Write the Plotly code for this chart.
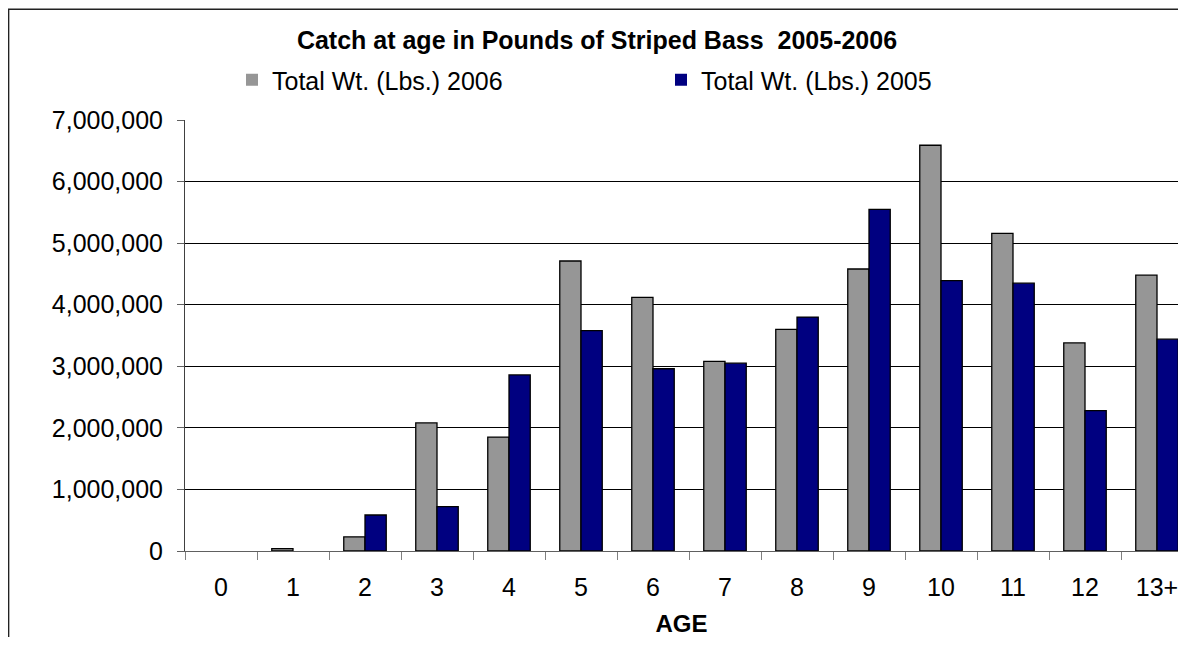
import plotly.graph_objects as go

ages = ["0", "1", "2", "3", "4", "5", "6", "7", "8", "9", "10", "11", "12", "13+"]
wt_2006 = [0, 40000, 230000, 2080000, 1850000, 4710000, 4120000, 3080000, 3600000,
           4580000, 6590000, 5160000, 3380000, 4480000]
wt_2005 = [0, 0, 585000, 720000, 2860000, 3580000, 2960000, 3050000, 3800000,
           5550000, 4390000, 4350000, 2280000, 3440000]

# the page body adds an 8px margin on every side; size the figure so the page
# does not scroll in the 1186x645 window
OFF = 8
W, H = 1186 - 2 * OFF, 645 - 2 * OFF
ML, MR, MT = 185 - OFF, 0, 120 - OFF
MB = H - (551 - OFF)
PW = W - ML - MR
PH = H - MT - MB
CAT_PX = 72.0


def px_x(p):
    """reference-pixel x -> paper coordinate"""
    return (p - OFF - ML) / PW


def px_y(p):
    """reference-pixel y -> paper coordinate"""
    return (H - MB - (p - OFF)) / PH


FONT = "Liberation Sans, Arial, sans-serif"


def outline_widths(vals):
    return [0 if v == 0 else 1.3 for v in vals]


fig = go.Figure()
fig.add_trace(go.Bar(x=ages, y=wt_2006, name="Total Wt. (Lbs.) 2006",
                     marker=dict(color="#969696",
                                 line=dict(color="#000000", width=outline_widths(wt_2006)))))
fig.add_trace(go.Bar(x=ages, y=wt_2005, name="Total Wt. (Lbs.) 2005",
                     marker=dict(color="#000080",
                                 line=dict(color="#000000", width=outline_widths(wt_2005)))))

fig.update_layout(
    width=W, height=H,
    margin=dict(l=ML, r=MR, t=MT, b=MB, pad=0),
    paper_bgcolor="white", plot_bgcolor="white",
    barmode="group", bargap=0.41, bargroupgap=0,
    font=dict(family=FONT, color="black", size=24),
    title=dict(text="<b>Catch at age in Pounds of Striped Bass  2005-2006</b>",
               x=(597 - OFF) / W, xanchor="center", xref="container",
               y=1 - (40 - OFF) / H, yanchor="middle", yref="container",
               font=dict(family=FONT, size=25, color="black")),
    legend=dict(orientation="h", x=px_x(232), xanchor="left",
                y=1 - (80 - OFF) / H, yanchor="middle", yref="container",
                font=dict(family=FONT, size=25, color="black"),
                bgcolor="rgba(0,0,0,0)", borderwidth=0,
                entrywidth=384, entrywidthmode="pixels",
                traceorder="normal", itemclick=False),
    showlegend=True,
    xaxis=dict(type="category", range=[-0.5, -0.5 + PW / CAT_PX],
               tickson="boundaries", ticks="outside", ticklen=8, tickcolor="#808080",
               showline=True, linecolor="#606060", linewidth=1,
               showgrid=False, ticklabelstandoff=14,
               tickfont=dict(family=FONT, size=25, color="black"),
               title=dict(text="<b>AGE</b>", standoff=18,
                          font=dict(family=FONT, size=24, color="black"))),
    yaxis=dict(range=[0, 7000000], dtick=1000000, tickformat=",d",
               ticks="outside", ticklen=7, tickcolor="#606060",
               showline=True, linecolor="#404040", linewidth=1,
               showgrid=True, gridcolor="#000000", gridwidth=1,
               zeroline=False, ticklabelstandoff=9,
               tickfont=dict(family=FONT, size=25, color="black")),
    shapes=[dict(type="rect", xref="paper", yref="paper",
                 x0=px_x(8.6), x1=px_x(1300), y0=px_y(800), y1=px_y(9.2),
                 line=dict(color="#222222", width=1.5), fillcolor="rgba(0,0,0,0)",
                 layer="below")],
)

fig.write_html("out.html")
